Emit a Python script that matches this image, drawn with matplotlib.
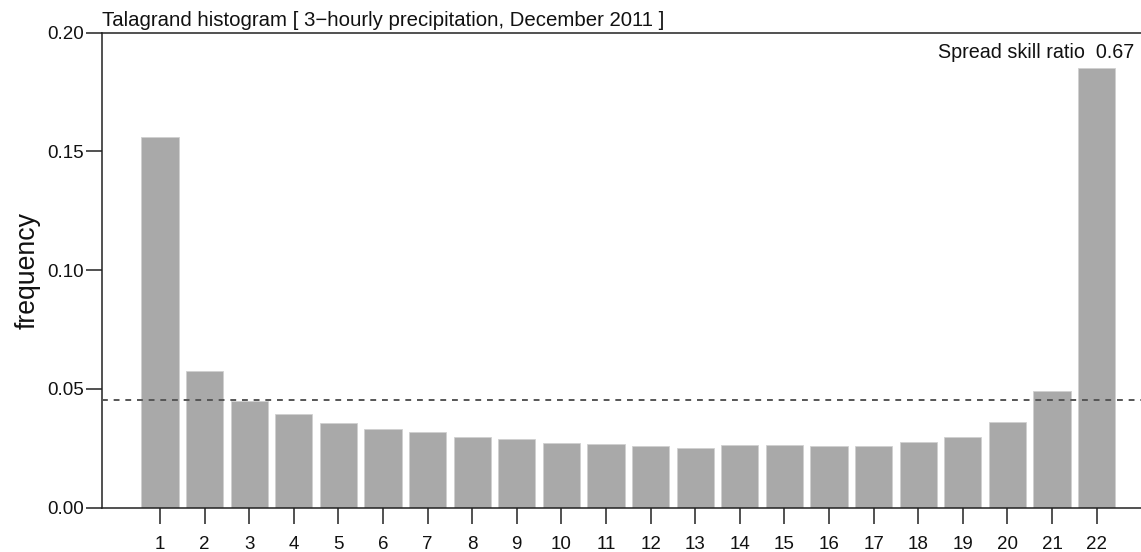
import matplotlib
matplotlib.use("Agg")
import matplotlib.pyplot as plt
import numpy as np

# Rank histogram data
ranks = list(range(1, 23))
frequency = [0.1562, 0.0576, 0.0449, 0.0394, 0.0358, 0.0333, 0.0317, 0.0298,
             0.0291, 0.0274, 0.0267, 0.0260, 0.0251, 0.0263, 0.0263, 0.0259,
             0.0260, 0.0278, 0.0299, 0.0360, 0.0491, 0.1850]
ytick_values = [0.00, 0.05, 0.10, 0.15, 0.20]
ytick_labels = ["0.00", "0.05", "0.10", "0.15", "0.20"]
title_text = "Talagrand histogram [ 3\u2212hourly precipitation, December 2011 ]"
ratio_text = "Spread skill ratio  0.67"
ylabel_text = "frequency"

plt.rcParams["font.family"] = ["Liberation Sans", "DejaVu Sans"]

W, H = 1141, 552
fig = plt.figure(figsize=(W / 100, H / 100), dpi=100)

left_px, top_px, bottom_px = 101.7, 32.7, 507.7
ax = fig.add_axes([left_px / W, (H - bottom_px) / H,
                   1 - left_px / W, (bottom_px - top_px) / H])

pitch = 44.6
first_center = 160.0
x_left = 1 - (first_center - left_px) / pitch
x_right = 1 + (W - first_center) / pitch

ax.bar(ranks, frequency, width=1 / 1.2, color="#a9a9a9",
       edgecolor="#d0d0d0", linewidth=0.6, zorder=2)

# uniform reference level 1/(number of ranks)
ax.axhline(1 / len(ranks), color="#555555", linestyle=(0, (3, 3)),
           linewidth=1.4, zorder=3)

ax.set_xlim(x_left, x_right)
ax.set_ylim(0, 0.20)

ax.spines["right"].set_visible(False)
for s in ["left", "top", "bottom"]:
    ax.spines[s].set_linewidth(1.1)
    ax.spines[s].set_color("#222222")

ax.set_xticks(ranks)
ax.set_xticklabels([str(r) for r in ranks])
ax.set_yticks(ytick_values)
ax.set_yticklabels(ytick_labels)
ax.tick_params(axis="both", direction="out", length=11.5, width=1.1,
               color="#222222", labelsize=13.5, labelcolor="#111111")
ax.tick_params(axis="x", pad=9)
ax.tick_params(axis="y", pad=1.5)

ax.set_ylabel(ylabel_text, fontsize=19.2, color="#111111")
ax.yaxis.set_label_coords(-(left_px - 41) / (W - left_px), 0.5)

ax.annotate(title_text, xy=(0, 1), xycoords="axes fraction",
            xytext=(0, 5), textcoords="offset points",
            ha="left", va="baseline", fontsize=14.7, color="#111111")

fig.text(1134 / W, (H - 58) / H, ratio_text, ha="right", va="baseline",
         fontsize=14.2, color="#111111")

fig.savefig("out.png", dpi=100)
